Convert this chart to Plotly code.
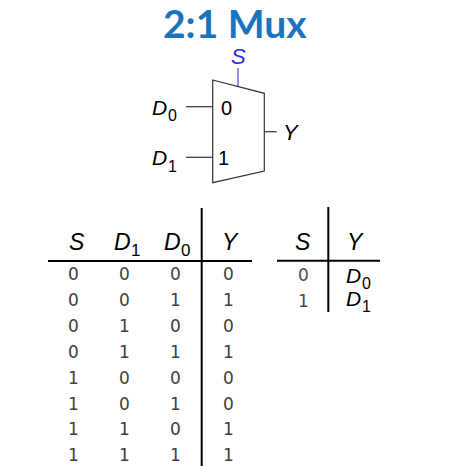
import plotly.graph_objects as go

# Truth table data
headers = ["S", ("D", "1"), ("D", "0"), "Y"]
col_S = [0, 0, 0, 0, 1, 1, 1, 1]
col_D1 = [0, 0, 1, 1, 0, 0, 1, 1]
col_D0 = [0, 1, 0, 1, 0, 1, 0, 1]
col_Y = [0, 1, 0, 1, 0, 0, 1, 1]

# Compact table
compact_headers = ["S", "Y"]
compact_S = [0, 1]
compact_Y = [("D", "0"), ("D", "1")]

W, H = 459, 466
fig = go.Figure()
fig.add_trace(go.Scatter(x=[0, W], y=[0, H], mode="markers",
                         marker=dict(opacity=0), hoverinfo="skip", showlegend=False))

shapes = []
ann = []
ITAL = "Liberation Sans"
DIG = "DejaVu Sans"
LINE = "#333333"

def line(x0, y0, x1, y1, color="black", width=2):
    shapes.append(dict(type="line", x0=x0, y0=y0, x1=x1, y1=y1, xref="x", yref="y",
                       line=dict(color=color, width=width)))

def text(x, y, t, size=18, color="black", family=ITAL, xanchor="center"):
    ann.append(dict(x=x, y=y, text=t, showarrow=False, xref="x", yref="y",
                    xanchor=xanchor, yanchor="middle",
                    font=dict(size=size, color=color, family=family)))

def subbed(xr, y, letter, digit, size, sub_size, drop, gap=-2.5):
    # letter right edge at xr, subscript to its right and lower
    text(xr + 1, y, "<i>" + letter + "</i>", size=size, xanchor="right")
    text(xr + gap, y + drop, digit, size=sub_size, xanchor="left")

# Title
text(235, 23, "<b>2:1 Mux</b>", size=39, color="#1B72BE", family="Lato")

# Mux symbol
text(238, 56.5, "<i>S</i>", size=22, color="#2B2BE0")
line(238, 68, 238, 87, color="#2B2BE0", width=1)
shapes.append(dict(type="path", path="M 212.7 80 L 264.3 93.3 L 264.3 171 L 212.7 182.7 Z",
                   xref="x", yref="y", line=dict(color=LINE, width=1.2)))
line(186, 106.7, 212.7, 106.7, color=LINE, width=1.2)
line(186, 157.3, 212.7, 157.3, color=LINE, width=1.2)
line(264.3, 131.7, 276.7, 131.7, color=LINE, width=1.2)
subbed(168, 107.5, "D", "0", 21, 16, 8)
subbed(168, 157.5, "D", "1", 21, 16, 9)
text(226, 108, "0", size=20, family="Liberation Sans")
text(223, 158, "1", size=20, family="Liberation Sans")
text(291, 132, "<i>Y</i>", size=22)

# Big truth table
col_x = [73, 124.5, 175, 228]
hdr_pos = [77, 132, 182, 230]
head_y = 241.5
for cx, h in zip(hdr_pos, headers):
    if isinstance(h, tuple):
        subbed(cx, head_y, h[0], h[1], 23, 17, 8.5, gap=-3.5)
    else:
        text(cx, head_y, "<i>" + h + "</i>", size=23)
line(48, 261, 252, 261)
line(201.7, 208, 201.7, 466)
row0, dy = 274, 25.9
for i, row in enumerate(zip(col_S, col_D1, col_D0, col_Y)):
    for cx, v in zip(col_x, row):
        text(cx, row0 + i * dy, str(v), size=17, color="#404040", family=DIG)

# Compact table
c2x = [303, 355.5]
for cx, h in zip(c2x, compact_headers):
    text(cx, 241.5, "<i>" + h + "</i>", size=23)
line(277, 260.7, 380, 260.7)
line(328.3, 207, 328.3, 312)
for i, (s, y) in enumerate(zip(compact_S, compact_Y)):
    text(c2x[0], 275 + i * 25.5, str(s), size=17, color="#5A4A3A", family=DIG)
    subbed(362, 275 + i * 23.3, y[0], y[1], 21, 16, 8)

fig.update_layout(
    width=W, height=H, margin=dict(l=0, r=0, t=0, b=0),
    paper_bgcolor="white", plot_bgcolor="white",
    xaxis=dict(range=[0, W], visible=False, fixedrange=True),
    yaxis=dict(range=[H, 0], visible=False, fixedrange=True),
    shapes=shapes, annotations=ann, showlegend=False,
)
fig.write_html("out.html", config={"displayModeBar": False},
               post_script="document.body.style.margin='0';document.body.style.overflow='hidden';")
